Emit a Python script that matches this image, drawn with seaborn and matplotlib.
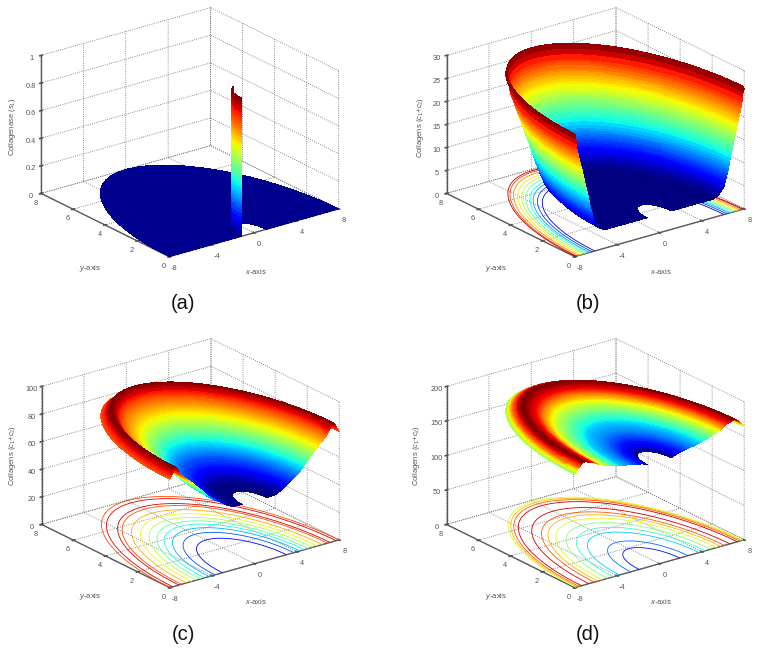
import matplotlib
matplotlib.use("Agg")

import matplotlib.pyplot as plt
import numpy as np
import seaborn as sns

# shared radial positions of the profiles (wound domain is a half disc with a small hole)
RADII = [1.15, 1.4, 1.7,
         2.0, 2.1, 2.2, 2.3, 2.4, 2.5, 2.6, 2.7, 2.8, 2.9,
         3.0, 3.1, 3.2, 3.3, 3.4, 3.5, 3.6, 3.7, 3.8, 3.9,
         4.0, 4.1, 4.2, 4.3, 4.4, 4.5, 4.6, 4.7, 4.8, 4.9,
         5.0, 5.1, 5.2, 5.3, 5.4, 5.5, 5.6, 5.7, 5.8, 5.9,
         6.0, 6.05, 6.1, 6.15, 6.2, 6.25, 6.3, 6.35, 6.4, 6.45, 6.5, 6.55, 6.6, 6.65, 6.7, 6.75, 6.8, 6.85, 6.9, 6.95,
         7.0, 7.05, 7.1, 7.15, 7.2, 7.25, 7.3, 7.35, 7.4, 7.45, 7.5, 7.55, 7.6, 7.65, 7.7, 7.75, 7.8, 7.85, 7.9, 7.95, 8.0]

PROFILE_A = [0.0] * len(RADII)
PROFILE_B = [4.0] * 33 + [
    4.0, 4.05, 4.1, 4.2, 4.3, 4.45, 4.65, 4.9, 5.2, 5.6,
    5.8, 5.95, 6.1, 6.5, 6.9, 7.3, 7.8, 8.3, 8.7, 9.2, 9.6, 10.1, 10.7, 11.3, 12.0, 12.6, 13.1, 13.6, 14.1, 14.6,
    15.0, 15.5, 16.1, 16.6, 17.1, 17.7, 18.3, 18.8, 19.2, 19.7, 20.2, 20.6, 21.1, 21.7, 22.3, 22.8, 23.4, 24.5, 25.6, 26.6, 26.0]
PROFILE_C = [45.5, 45.5, 45.6,
             45.9, 46.2, 46.5, 46.9, 47.2, 47.6, 48.1, 48.6, 49.2, 49.8,
             50.4, 51.0, 51.6, 52.1, 52.6, 53, 53.4, 53.9, 54.5, 55.2,
             55.9, 56.5, 57.1, 57.8, 58.6, 59.4, 60.2, 61, 62, 63,
             64, 64.9, 65.7, 66.5, 67.3, 68.1, 69, 69.9, 70.7, 71.5,
             72.2, 72.6, 72.9, 73.3, 73.6, 74, 74.3, 74.7, 75, 75.4, 75.8, 76.2, 76.6, 77, 77.4, 77.8, 78.2, 78.6, 79, 79.7,
             80.4, 81.2, 82, 82.8, 83.5, 84.2, 84.8, 85.4, 85.8, 86, 85.8, 85.1, 84.2, 83.3, 82.5, 81.7, 81, 80.3, 79.7, 79.1, 78.5]
PROFILE_D = [148.5, 150.5, 152,
             153, 153.3, 153.6, 154, 154.3, 154.6, 155, 155.4, 155.7, 156,
             156.3, 156.5, 156.8, 157, 157.3, 157.5, 157.8, 158, 158.4, 159,
             159.6, 160, 160.4, 160.8, 161.2, 161.7, 162.3, 162.8, 163.3, 163.8,
             164.3, 164.9, 165.4, 165.9, 166.4, 167.1, 167.9, 168.7, 169.5, 170.3,
             171, 171.5, 172, 172.6, 173.2, 173.7, 174.2, 174.7, 175.1, 175.2, 175.2, 175.5, 175.8, 176, 176.3, 176.6, 176.9, 177.2, 177.5, 177.8,
             178, 178, 178, 177.7, 177.4, 177, 176.5, 176, 175.2, 174.4, 173.6, 172.9, 172.3, 171.3, 170.3, 169.3, 168.2, 167.1, 165.9, 165, 164.2]

# thin collagenase wall at the edge of the hole, panel (a)
WALL_RADII = [1.15, 1.151, 1.152, 1.153, 1.154, 1.155, 1.156, 1.157, 1.158, 1.159, 1.16, 1.161,
              1.162, 1.163, 1.164, 1.165, 1.166, 1.167, 1.168, 1.169, 1.17, 1.171, 1.172, 1.173,
              1.174, 1.175, 1.176, 1.177, 1.178, 1.179, 1.18, 1.181, 1.182, 1.183, 1.184, 1.185,
              1.186, 1.187, 1.188, 1.189, 1.19, 1.191, 1.192, 1.193, 1.194, 1.195, 1.196, 1.197]
WALL_HEIGHTS = [1.0, 0.98, 0.96, 0.94, 0.92, 0.9, 0.88, 0.86, 0.84, 0.82, 0.8, 0.78,
                0.76, 0.74, 0.72, 0.7, 0.68, 0.66, 0.64, 0.62, 0.6, 0.58, 0.56, 0.54,
                0.52, 0.5, 0.48, 0.46, 0.44, 0.42, 0.4, 0.38, 0.36, 0.34, 0.32, 0.3,
                0.28, 0.26, 0.24, 0.22, 0.2, 0.17, 0.14, 0.11, 0.08, 0.05, 0.02, 0.0]

LEVELS_B = [6.1, 8.3, 10.4, 12.5, 14.7, 16.8, 19.0, 21.1, 23.2, 25.4]
LEVELS_C = [50.5, 54, 57.6, 61, 64.7, 68, 71.7, 75, 78.9, 82.4]
LEVELS_D = [152.7, 155.4, 158.2, 160.9, 163.6, 166.4, 169.5, 172.5, 176]

X_TICKS = [-8, -4, 0, 4, 8]
Y_TICKS = [0, 2, 4, 6, 8]
Z_TICKS_A = [0, 0.2, 0.4, 0.6, 0.8, 1]
Z_TICKS_B = [0, 5, 10, 15, 20, 25, 30]
Z_TICKS_C = [0, 20, 40, 60, 80, 100]
Z_TICKS_D = [0, 50, 100, 150, 200]

W, H = 762, 650
AX_PX = 360
GREY = "#5a5a5a"
LABEL_GREY = "#555555"

sns.set_theme(style="white")
plt.rcParams["font.family"] = ["Liberation Sans", "DejaVu Sans"]
plt.rcParams["axes.unicode_minus"] = False
plt.rcParams["mathtext.fontset"] = "custom"
plt.rcParams["mathtext.rm"] = "Liberation Sans"
plt.rcParams["mathtext.it"] = "Liberation Sans:italic"
plt.rcParams["text.hinting"] = "force_autohint"
plt.rcParams["text.kerning_factor"] = 6
plt.rcParams["grid.linestyle"] = ":"
plt.rcParams["grid.linewidth"] = 0.6
plt.rcParams["grid.color"] = "#666666"
plt.rcParams["axes3d.automargin"] = False

jet = plt.get_cmap("jet")


def polar_grid(radii, theta):
    r_grid, t_grid = np.meshgrid(radii, theta)
    return r_grid * np.cos(t_grid), r_grid * np.sin(t_grid)


def make_axes(fig, cx, cy, z_ticks):
    left = (cx - AX_PX / 2) / W
    bottom = 1 - (cy + AX_PX / 2) / H
    ax = fig.add_axes([left, bottom, AX_PX / W, AX_PX / H], projection="3d",
                      proj_type="ortho", computed_zorder=False)
    ax.patch.set_alpha(0)
    ax.view_init(elev=21.9, azim=-127.1)
    ax.set_box_aspect((1, 1, 0.7), zoom=0.93 * 350 / AX_PX)
    ax.set_xlim(-8, 8)
    ax.set_ylim(0, 8)
    ax.set_zlim(z_ticks[0], z_ticks[-1])
    ax.set_xticks(X_TICKS)
    ax.set_yticks(Y_TICKS)
    ax.set_zticks(z_ticks)
    ax.set_zticklabels([f"{t:g}" for t in z_ticks])
    ax.tick_params(labelsize=5.3, colors=LABEL_GREY)
    ax.tick_params(axis="x", pad=-2.5)
    ax.tick_params(axis="y", pad=-3.5)
    ax.tick_params(axis="z", pad=-3.5)
    for axis in (ax.xaxis, ax.yaxis, ax.zaxis):
        axis.set_pane_color((1, 1, 1, 0))
        axis.pane.set_edgecolor("none")
        axis.line.set_color(GREY)
        axis.line.set_linewidth(1.0)
        axis._axinfo["tick"].update(inward_factor=0.1, outward_factor=0.1)
    return ax


def draw_profile(ax, profile, levels, theta):
    x, y = polar_grid(RADII, theta)
    z = np.tile(profile, (len(theta), 1))
    ax.contour(x, y, z, levels=levels, zdir="z", offset=0, cmap=jet,
               vmin=min(profile), vmax=max(profile), linewidths=0.6, zorder=1)
    ax.plot_surface(x, y, z, rstride=1, cstride=1, cmap=jet, vmin=min(profile), vmax=max(profile),
                    linewidth=0, antialiased=False, shade=False, zorder=2)


def put_text(fig, px, py, text, **kwargs):
    fig.text(px / W, 1 - py / H, text, ha="center", va="center", **kwargs)


fig = plt.figure(figsize=(W / 100, H / 100), dpi=100)
theta = np.linspace(0, np.pi, 181)

# (a)
ax_a = make_axes(fig, 185, 137, Z_TICKS_A)
x_a, y_a = polar_grid(RADII, theta)
ax_a.plot_surface(x_a, y_a, np.tile(PROFILE_A, (len(theta), 1)), rstride=2, cstride=8, color="#00008f",
                  linewidth=0, antialiased=False, shade=False, zorder=1)
theta_wall = np.linspace(np.radians(104), np.pi, 12)
x_w, y_w = polar_grid(WALL_RADII, theta_wall)
ax_a.plot_surface(x_w, y_w, np.tile(WALL_HEIGHTS, (len(theta_wall), 1)), rstride=1, cstride=1, cmap=jet,
                  vmin=0, vmax=1, linewidth=0, antialiased=False, shade=False, zorder=2)

# (b)
ax_b = make_axes(fig, 590.5, 137, Z_TICKS_B)
draw_profile(ax_b, PROFILE_B, LEVELS_B, theta)

# (c)
ax_c = make_axes(fig, 185.5, 468, Z_TICKS_C)
draw_profile(ax_c, PROFILE_C, LEVELS_C, theta)

# (d)
ax_d = make_axes(fig, 590.5, 468, Z_TICKS_D)
draw_profile(ax_d, PROFILE_D, LEVELS_D, theta)

label_style = dict(fontsize=5.5, color=LABEL_GREY)
put_text(fig, 256, 272, "$x$-axis", **label_style)
put_text(fig, 90, 268, "$y$-axis", **label_style)
put_text(fig, 13, 127, "Collagenase ($s_1$)", rotation=90, **label_style)
put_text(fig, 661, 272, "$x$-axis", **label_style)
put_text(fig, 496, 268, "$y$-axis", **label_style)
put_text(fig, 420, 127, "Collagens ($c_1$+$c_2$)", rotation=90, **label_style)
put_text(fig, 256, 601, "$x$-axis", **label_style)
put_text(fig, 90, 597, "$y$-axis", **label_style)
put_text(fig, 12, 455, "Collagens ($c_1$+$c_2$)", rotation=90, **label_style)
put_text(fig, 661, 601, "$x$-axis", **label_style)
put_text(fig, 496, 597, "$y$-axis", **label_style)
put_text(fig, 417, 455, "Collagens ($c_1$+$c_2$)", rotation=90, **label_style)

panel_style = dict(fontsize=14.5, color="#111111")
put_text(fig, 183, 304, "(a)", **panel_style)
put_text(fig, 588, 304, "(b)", **panel_style)
put_text(fig, 183, 634, "(c)", **panel_style)
put_text(fig, 588, 634, "(d)", **panel_style)

fig.savefig("out.png", dpi=100)
